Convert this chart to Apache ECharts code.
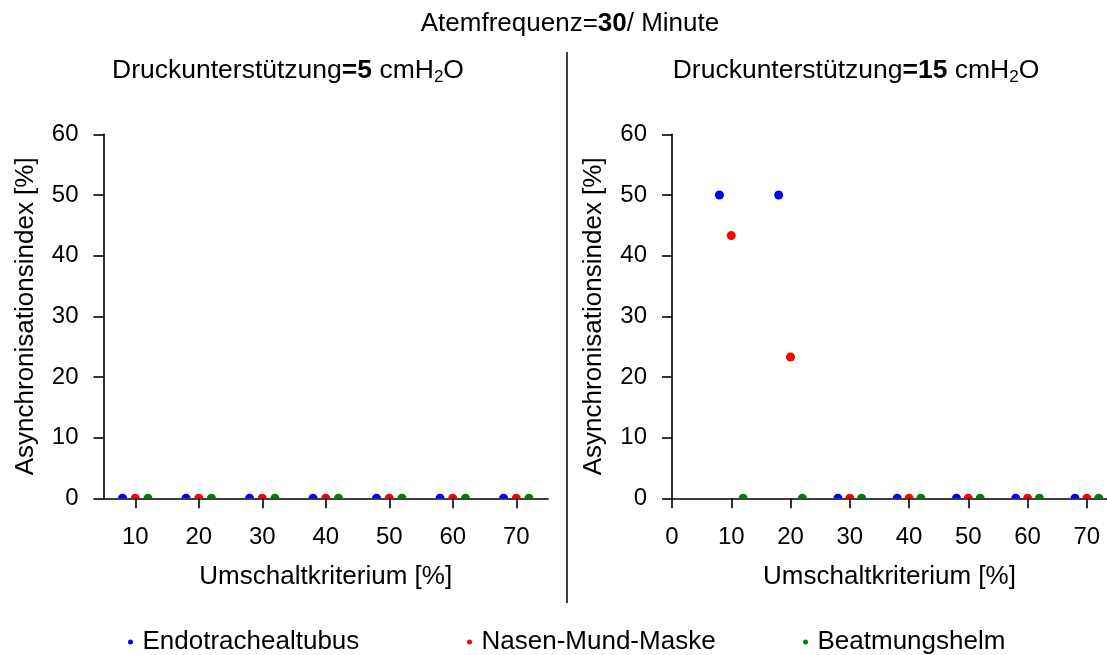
<!DOCTYPE html>
<html>
<head>
<meta charset="utf-8">
<script src="https://cdn.jsdelivr.net/npm/echarts@6/dist/echarts.min.js"></script>
<style>html,body{margin:0;padding:0;background:#fff}#c{width:1107px;height:655px}</style>
</head>
<body>
<div id="c"></div>
<script>
// ---- data ----
const seriesNames = ['Endotrachealtubus', 'Nasen-Mund-Maske', 'Beatmungshelm'];
const seriesColors = ['#0000ff', '#ff0000', '#008000'];
// x positions (Umschaltkriterium, dodged per device)
const xEndo = [8, 18, 28, 38, 48, 58, 68];
const xMaske = [10, 20, 30, 40, 50, 60, 70];
const xHelm = [12, 22, 32, 42, 52, 62, 72];
// left panel: Druckunterstützung = 5
const leftEndo = [0, 0, 0, 0, 0, 0, 0];
const leftMaske = [0, 0, 0, 0, 0, 0, 0];
const leftHelm = [0, 0, 0, 0, 0, 0, 0];
// right panel: Druckunterstützung = 15
const rightEndo = [50, 50, 0, 0, 0, 0, 0];
const rightMaske = [43.3, 23.3, 0, 0, 0, 0, 0];
const rightHelm = [0, 0, 0, 0, 0, 0, 0];
const leftXTicks = [10, 20, 30, 40, 50, 60, 70];
const rightXTicks = [0, 10, 20, 30, 40, 50, 60, 70];

const FONT = 'Liberation Sans, Arial, sans-serif';
const halfCircle = 'path://M0,10 A10,10 0 0 1 20,10 Z';
const SZ = 9;

function pts(xs, ys) {
  return xs.map((x, i) => {
    const y = ys[i];
    if (y === 0) {
      return { value: [x, y], symbol: halfCircle, symbolSize: [SZ, SZ / 2], symbolOffset: [0, -SZ / 4] };
    }
    return { value: [x, y], symbol: 'circle', symbolSize: SZ };
  });
}

const chart = echarts.init(document.getElementById('c'), null, { renderer: 'canvas' });

const axisLineStyle = { color: '#000', width: 1.6 };
function xAxis(gridIndex, min, max, ticks) {
  return {
    type: 'value', gridIndex, min, max,
    name: 'Umschaltkriterium [%]', nameLocation: 'middle', nameGap: 66,
    nameTextStyle: { fontFamily: FONT, fontSize: 26, color: '#000' },
    axisLine: { onZero: false, lineStyle: axisLineStyle },
    axisTick: { show: true, length: 10, lineStyle: axisLineStyle, customValues: ticks },
    axisLabel: { fontFamily: FONT, fontSize: 24, color: '#000', margin: 27, customValues: ticks },
    splitLine: { show: false }
  };
}
function yAxis(gridIndex) {
  return {
    type: 'value', gridIndex, min: 0, max: 60, interval: 10,
    name: 'Asynchronisationsindex [%]', nameLocation: 'middle', nameGap: 65,
    nameTextStyle: { fontFamily: FONT, fontSize: 26, color: '#000' },
    axisLine: { show: true, lineStyle: axisLineStyle },
    axisTick: { show: true, length: 10, lineStyle: axisLineStyle },
    axisLabel: { fontFamily: FONT, fontSize: 24, color: '#000', margin: 25 },
    splitLine: { show: false }
  };
}

function rich(fs) {
  return {
    n: { fontFamily: FONT, fontSize: fs, fontWeight: 'normal', color: '#000', lineHeight: 30 },
    b: { fontFamily: FONT, fontSize: fs, fontWeight: 'bold', color: '#000', lineHeight: 30 },
    s: { fontFamily: FONT, fontSize: 17, fontWeight: 'normal', color: '#000', lineHeight: 16, verticalAlign: 'bottom' }
  };
}

function mkSeries(name, color, xs, ys, idx) {
  return {
    type: 'scatter', name, xAxisIndex: idx, yAxisIndex: idx,
    data: pts(xs, ys), itemStyle: { color, opacity: 1 }, clip: false, z: 1
  };
}

function legend(i, left) {
  return {
    data: [seriesNames[i]], left, top: 624, icon: 'circle', itemWidth: 14, itemHeight: 5,
    selectedMode: false,
    textStyle: { fontFamily: FONT, fontSize: 26, color: '#000' }
  };
}

chart.setOption({
  animation: false,
  backgroundColor: '#fff',
  title: [
    { text: '{n|Atemfrequenz=}{b|30}{n|/ Minute}', left: 565, top: 4, textAlign: 'center',
      textStyle: { fontWeight: 'normal', rich: rich(26) } },
    { text: '{n|Druckunterstützung}{b|=5}{n| cmH}{s|2}{n|O}', left: 283, top: 51, textAlign: 'center',
      textStyle: { fontWeight: 'normal', rich: rich(26.5) } },
    { text: '{n|Druckunterstützung}{b|=15}{n| cmH}{s|2}{n|O}', left: 851, top: 51, textAlign: 'center',
      textStyle: { fontWeight: 'normal', rich: rich(26.5) } }
  ],
  legend: [legend(0, 123), legend(1, 462), legend(2, 798)],
  grid: [
    { left: 103.5, width: 444.5, top: 134.3, height: 364 },
    { left: 672, width: 435, top: 134.3, height: 364 }
  ],
  xAxis: [xAxis(0, 5, 75, leftXTicks), xAxis(1, 0, 73.4, rightXTicks)],
  yAxis: [yAxis(0), yAxis(1)],
  series: [
    mkSeries(seriesNames[0], seriesColors[0], xEndo, leftEndo, 0),
    mkSeries(seriesNames[1], seriesColors[1], xMaske, leftMaske, 0),
    mkSeries(seriesNames[2], seriesColors[2], xHelm, leftHelm, 0),
    mkSeries(seriesNames[0], seriesColors[0], xEndo, rightEndo, 1),
    mkSeries(seriesNames[1], seriesColors[1], xMaske, rightMaske, 1),
    mkSeries(seriesNames[2], seriesColors[2], xHelm, rightHelm, 1)
  ],
  graphic: [
    { type: 'line', shape: { x1: 567, y1: 52, x2: 567, y2: 603 }, style: { stroke: '#000', lineWidth: 1.5 } }
  ]
});
</script>
</body>
</html>
